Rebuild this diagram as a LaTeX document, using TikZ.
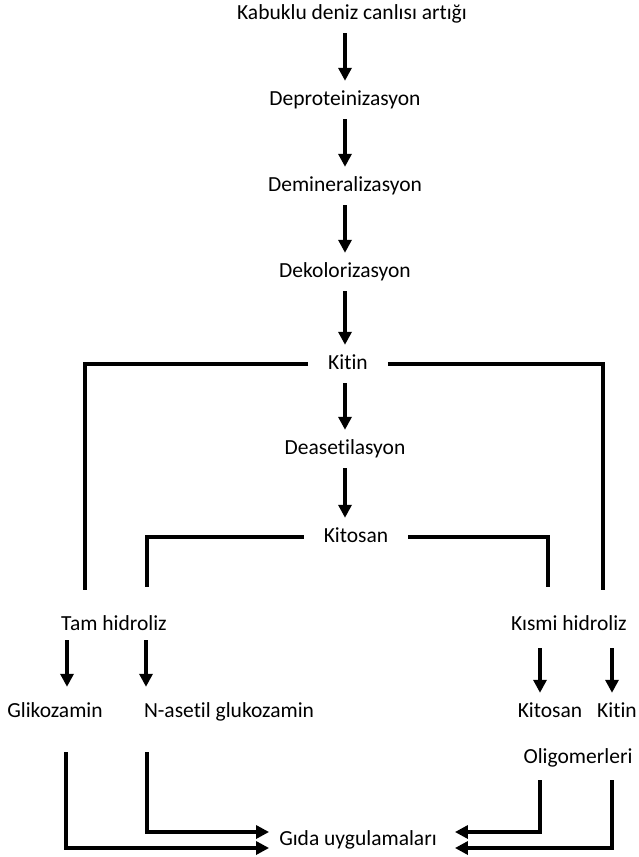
\documentclass[tikz,border=0pt]{standalone}
\usepackage{fontspec}
\setmainfont{Carlito}[Ligatures=NoCommon]
\usetikzlibrary{arrows.meta}
\tikzset{>={Triangle[length=13pt,width=13pt]}}
\tikzset{stage/.style = {font=\fontsize{21.5}{25}\selectfont, text height=15pt, text depth=5pt, inner xsep=2pt, inner ysep=9pt}}
\tikzset{hub/.style = {stage, inner xsep=20pt}}
\tikzset{edge/.style = {->, line width=3.2pt}}
\tikzset{link/.style = {line width=3.2pt}}

\begin{document}
\begin{tikzpicture}[x=1pt,y=-1pt]
            \useasboundingbox (0,0) rectangle (639,857);

            % Main chain
            \node[stage] (shell) at (352,14) {Kabuklu deniz canlısı artığı};
            \node[stage] (deprot) at (345,100) {Deproteinizasyon};
            \node[stage] (demin) at (345,186) {Demineralizasyon};
            \node[stage] (dekol) at (345,272) {Dekolorizasyon};
            \node[hub] (kitin) at (348,364) {Kitin};
            \node[stage] (deaset) at (345,449) {Deasetilasyon};
            \node[hub] (kitosan) at (356,537) {Kitosan};

            % Hydrolysis
            \node[stage] (tam) at (114,625) {Tam hidroliz};
            \node[stage] (kismi) at (569,625) {Kısmi hidroliz};

            % Products
            \node[stage] (gliko) at (55,712) {Glikozamin};
            \node[stage] (nasetil) at (229,712) {N-asetil glukozamin};
            \node[stage] (kitosanol) at (550,712) {Kitosan};
            \node[stage] (kitinol) at (617,712) {Kitin};
            \node[stage] (oligo) at (578,758) {Oligomerleri};
            \node[stage, inner xsep=10pt] (gida) at (358,840) {Gıda uygulamaları};

            % Free ends
            \coordinate (kitinL) at (85,590);
            \coordinate (kitinR) at (603,590);
            \coordinate (kitosanL) at (147,587);
            \coordinate (kitosanR) at (548,587);
            \coordinate (glikoS) at (66,752);
            \coordinate (nasetilS) at (147,752);
            \coordinate (kitosanolS) at (540,780);
            \coordinate (kitinolS) at (612,780);

            % Edges
            \draw[edge] (deprot |- shell.south) -- (deprot);
            \draw[edge] (deprot) -- (demin);
            \draw[edge] (demin) -- (dekol);
            \draw[edge] (dekol.south) -- (dekol.south |- kitin.north);
            \draw[edge] (deaset |- kitin.south) -- (deaset);
            \draw[edge] (deaset.south) -- (deaset.south |- kitosan.north);

            % Brackets
            \draw[link] (kitin.west) -| (kitinL);
            \draw[link] (kitin.east) -| (kitinR);
            \draw[link] (kitosan.west) -| (kitosanL);
            \draw[link] (kitosan.east) -| (kitosanR);

            % Hydrolysis products
            \draw[edge] ([xshift=-47pt,yshift=4pt]tam.south) -- ([xshift=12pt,yshift=6pt]gliko.north);
            \draw[edge] ([xshift=32pt,yshift=4pt]tam.south) -- ([xshift=-83pt,yshift=6pt]nasetil.north);
            \draw[edge] ([xshift=-29pt,yshift=-4pt]kismi.south) -- ([xshift=-10pt]kitosanol.north);
            \draw[edge] ([xshift=43pt,yshift=-4pt]kismi.south) -- ([xshift=-5pt]kitinol.north);

            % Food applications
            \draw[edge] (glikoS) |- ([yshift=-8pt]gida.west);
            \draw[edge] (nasetilS) |- ([yshift=8pt]gida.west);
            \draw[edge] (kitosanolS) |- ([xshift=8pt,yshift=8pt]gida.east);
            \draw[edge] (kitinolS) |- ([xshift=8pt,yshift=-8pt]gida.east);

        \end{tikzpicture}
\end{document}
